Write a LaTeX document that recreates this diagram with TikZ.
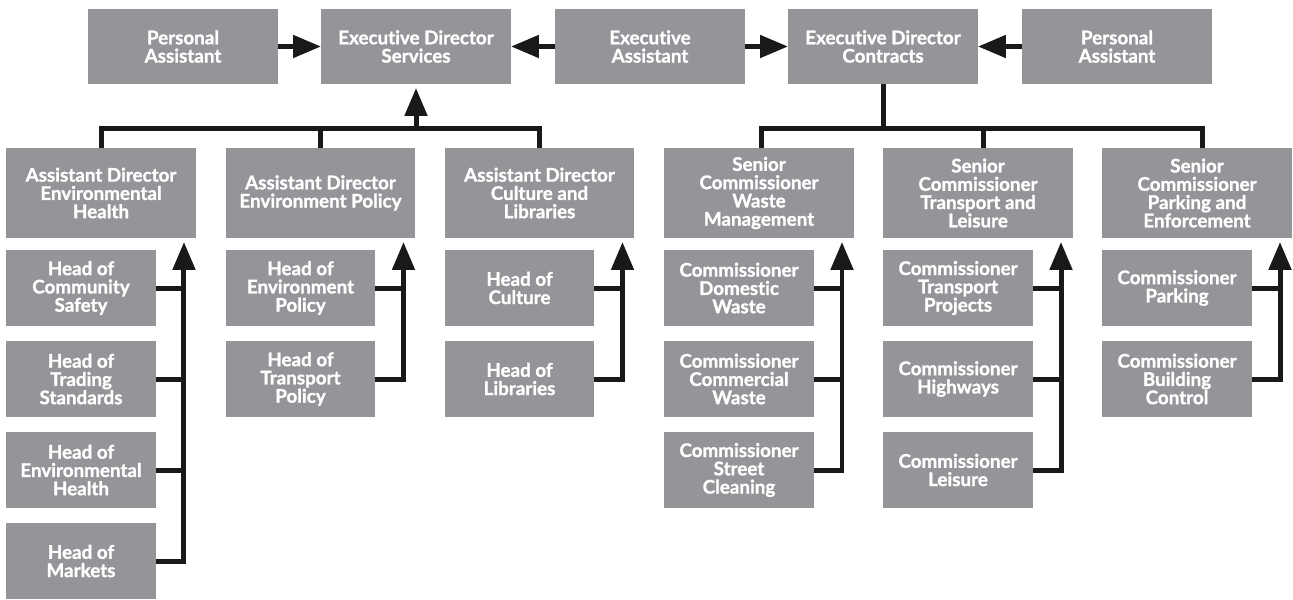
\documentclass[tikz,border=0pt]{standalone}
\usepackage{fontspec}
\setmainfont{Lato}[Ligatures = NoCommon, BoldFeatures = {FakeBold = 1.2}]
\usepackage{tikz}
\usetikzlibrary{arrows.meta}
\usetikzlibrary{positioning}
\definecolor{boxgrey}{RGB}{147,149,152}
\tikzset{box/.style = {fill=boxgrey, text=white, align=center, inner sep = 0, outer sep = 0,
    font=\bfseries\fontsize{10.7}{10.4}\selectfont}}
\tikzset{topbox/.style = {box, minimum width = 3.8cm, minimum height = 1.5cm}}
\tikzset{headbox/.style = {box, minimum width = 3.8cm, minimum height = 1.8cm}}
\tikzset{subbox/.style = {box, minimum width = 3cm, minimum height = 1.52cm}}
\tikzset{link/.style = {line width = 0.1cm, black!90}}
\tikzset{feed/.style = {link, -{Triangle[length = 0.56cm, width = 0.44cm]}}}

\begin{document}
\begin{tikzpicture}[x = 0.02cm, y = -0.02cm]
      \useasboundingbox (0, 0) rectangle (1293, 599);

      % top row
      \node [topbox] (pal) at (183, 46.5) {Personal\\Assistant};
      \node [topbox] (eds) at (416, 46.5) {Executive Director\\Services};
      \node [topbox] (ea) at (650, 46.5) {Executive\\Assistant};
      \node [topbox] (edc) at (883, 46.5) {Executive Director\\Contracts};
      \node [topbox] (par) at (1117, 46.5) {Personal\\Assistant};

      \draw [feed] (pal) -- (eds);
      \draw [feed] (ea) -- (eds);
      \draw [feed] (ea) -- (edc);
      \draw [feed] (par) -- (edc);

      % heads of the two sides
      \node [headbox] (adeh) at (101, 193) {Assistant Director\\Environmental\\Health};
      \node [headbox] (adep) at (320.5, 193) {Assistant Director\\Environment Policy};
      \node [headbox] (adcl) at (539.5, 193) {Assistant Director\\Culture and\\Libraries};
      \node [headbox] (scwm) at (759, 193) {Senior\\Commissioner\\Waste\\Management};
      \node [headbox] (sctl) at (978, 193) {Senior\\Commissioner\\Transport and\\Leisure};
      \node [headbox] (scpe) at (1197, 193) {Senior\\Commissioner\\Parking and\\Enforcement};

      \coordinate (sbus) at (416, 128);
      \coordinate (cbus) at (883, 128);
      \draw [link] (adeh.north) -- (adeh.north |- sbus) -- (adcl.north |- sbus) -- (adcl.north);
      \draw [link] (adep.north) -- (adep.north |- sbus);
      \draw [feed, shorten > = 0.08cm] (sbus) -- (eds.south);
      \draw [link] (edc.south) -- (cbus);
      \draw [link] ([xshift = 0.04cm]scwm.north) -- ([xshift = 0.04cm]scwm.north |- cbus)
        -- ([xshift = 0.1cm]scpe.north |- cbus) -- ([xshift = 0.1cm]scpe.north);
      \draw [link] ([xshift = 0.1cm]sctl.north) -- ([xshift = 0.1cm]sctl.north |- cbus);

      % units
      \node [subbox] (hcs) at (81, 288) {Head of\\Community\\Safety};
      \node [subbox] (hts) at (81, 379) {Head of\\Trading\\Standards};
      \node [subbox] (heh) at (81, 470) {Head of\\Environmental\\Health};
      \node [subbox] (hm) at (81, 561) {Head of\\Markets};

      \node [subbox] (hep) at (300.5, 288) {Head of\\Environment\\Policy};
      \node [subbox] (htp) at (300.5, 379) {Head of\\Transport\\Policy};

      \node [subbox] (hc) at (519.5, 288) {Head of\\Culture};
      \node [subbox] (hl) at (519.5, 379) {Head of\\Libraries};

      \node [subbox] (cdw) at (739, 288) {Commissioner\\Domestic\\Waste};
      \node [subbox] (ccw) at (739, 379) {Commissioner\\Commercial\\Waste};
      \node [subbox] (csc) at (739, 470) {Commissioner\\Street\\Cleaning};

      \node [subbox] (ctp) at (958, 288) {Commissioner\\Transport\\Projects};
      \node [subbox] (chw) at (958, 379) {Commissioner\\Highways};
      \node [subbox] (cl) at (958, 470) {Commissioner\\Leisure};

      \node [subbox] (cp) at (1177, 288) {Commissioner\\Parking};
      \node [subbox] (cbc) at (1177, 379) {Commissioner\\Building\\Control};

      \foreach \p/\c in {adeh/hm, adep/htp, adcl/hl, scwm/csc, sctl/cl, scpe/cbc} {
        \coordinate (\p-up) at ([xshift = -0.24cm]\p.south east);
        \draw [feed, shorten > = 0.08cm] (\c.east) -| (\p-up);
      }
      \foreach \p/\c in {adeh/hcs, adeh/hts, adeh/heh, adep/hep, adcl/hc,
                         scwm/cdw, scwm/ccw, sctl/ctp, sctl/chw, scpe/cp} {
        \draw [link] (\c.east) -- (\c.east -| \p-up);
      }
\end{tikzpicture}
\end{document}
